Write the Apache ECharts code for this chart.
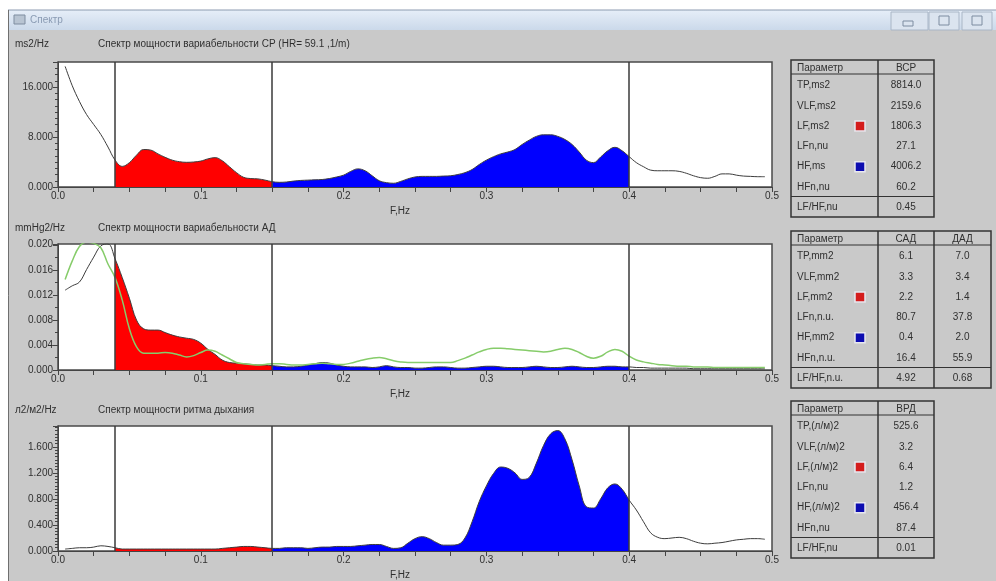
<!DOCTYPE html>
<html><head><meta charset="utf-8">
<script src="https://cdn.jsdelivr.net/npm/echarts/dist/echarts.min.js"></script>
<style>html,body{margin:0;padding:0;background:#fff}#c{width:996px;height:581px}</style>
</head><body><div id="c"></div>
<script>
// ---- data ----
const freq = [0.005,0.010,0.015,0.020,0.025,0.030,0.035,0.040,0.045,0.050,0.055,0.060,0.065,0.070,0.075,0.080,0.085,0.090,0.095,0.100,
0.105,0.110,0.115,0.120,0.125,0.130,0.135,0.140,0.145,0.150,0.155,0.160,0.165,0.170,0.175,0.180,0.185,0.190,0.195,0.200,
0.205,0.210,0.215,0.220,0.225,0.230,0.235,0.240,0.245,0.250,0.255,0.260,0.265,0.270,0.275,0.280,0.285,0.290,0.295,0.300,
0.305,0.310,0.315,0.320,0.325,0.330,0.335,0.340,0.345,0.350,0.355,0.360,0.365,0.370,0.375,0.380,0.385,0.390,0.395,0.400,
0.405,0.410,0.415,0.420,0.425,0.430,0.435,0.440,0.445,0.450,0.455,0.460,0.465,0.470,0.475,0.480,0.485,0.490,0.495];

// HRV spectrum, thousands of ms2/Hz
const hrvPower = [19.3,16.2,13.7,11.6,10.0,8.4,6.4,4.3,3.3,3.9,5.1,6.0,5.9,5.3,4.75,4.3,4.05,3.95,4.0,4.15,
4.5,4.7,4.2,3.25,2.3,1.55,1.35,1.3,1.1,0.85,0.75,0.8,0.95,1.05,1.1,1.15,1.2,1.35,1.6,1.9,
2.5,2.9,2.6,1.8,1.0,0.7,0.6,0.9,1.3,1.6,1.7,1.7,1.7,1.75,1.8,2.0,2.3,2.8,3.6,4.3,
4.85,5.3,5.6,6.0,6.8,7.5,8.1,8.35,8.35,8.1,7.6,6.8,5.6,4.3,3.9,4.8,5.8,6.35,5.8,4.85,
3.9,3.25,2.7,2.6,2.6,2.6,2.5,2.2,1.8,1.5,1.4,1.7,2.1,2.1,1.9,1.75,1.7,1.65,1.65];

// BP spectrum, mmHg2/Hz (systolic = black/filled, diastolic = green)
const sbpPower = [0.0128,0.0135,0.0141,0.0161,0.0181,0.0199,0.0202,0.0178,0.0148,0.0115,0.0080,0.0066,0.0064,0.0064,0.0060,0.0056,0.0053,0.0051,0.0049,0.0043,
0.0033,0.0025,0.0016,0.0012,0.0011,0.0010,0.0009,0.0008,0.0008,0.0007,0.0006,0.0005,0.0005,0.0006,0.0008,0.0010,0.0012,0.0011,0.0008,0.0006,
0.0005,0.0005,0.0005,0.0004,0.0005,0.0007,0.0005,0.0004,0.0004,0.0003,0.0003,0.0004,0.0005,0.0005,0.0004,0.0003,0.0003,0.0004,0.0005,0.0006,
0.0006,0.0005,0.0004,0.0004,0.0004,0.0005,0.0006,0.0005,0.0004,0.0004,0.0005,0.0006,0.0005,0.0004,0.0004,0.0005,0.0006,0.0006,0.0005,0.0005,
0.0004,0.0004,0.0003,0.0003,0.0003,0.0003,0.0003,0.0003,0.0002,0.0002,0.0002,0.0002,0.0002,0.0002,0.0002,0.0002,0.0002,0.0002,0.0002];
const dbpPower = [0.0145,0.0175,0.0198,0.0205,0.0203,0.0196,0.0170,0.0148,0.0112,0.0066,0.0037,0.0027,0.0027,0.0027,0.0028,0.0027,0.0024,0.0021,0.0023,0.0028,
0.0032,0.0030,0.0024,0.0018,0.0012,0.0010,0.0009,0.0008,0.0009,0.0010,0.0010,0.0009,0.0008,0.0008,0.0009,0.0010,0.0011,0.0010,0.0009,0.0009,
0.0011,0.0014,0.0017,0.0019,0.0020,0.0018,0.0015,0.0013,0.0012,0.0012,0.0012,0.0012,0.0012,0.0012,0.0012,0.0015,0.0019,0.0024,0.0029,0.0033,
0.0035,0.0035,0.0034,0.0033,0.0032,0.0031,0.0030,0.0029,0.0030,0.0033,0.0035,0.0033,0.0028,0.0022,0.0019,0.0022,0.0029,0.0033,0.0030,0.0022,
0.0016,0.0013,0.0011,0.0009,0.0008,0.0007,0.0006,0.0006,0.0005,0.0005,0.0005,0.0004,0.0004,0.0004,0.0004,0.0004,0.0004,0.0004,0.0004];

// Respiration spectrum
const respPower = [0.03,0.04,0.05,0.05,0.06,0.08,0.07,0.05,0.03,0.03,0.03,0.03,0.03,0.03,0.03,0.03,0.03,0.03,0.03,0.03,
0.03,0.03,0.04,0.05,0.06,0.07,0.07,0.06,0.05,0.04,0.04,0.05,0.05,0.05,0.04,0.05,0.06,0.06,0.07,0.07,
0.07,0.08,0.09,0.10,0.10,0.07,0.04,0.05,0.12,0.19,0.22,0.19,0.13,0.09,0.09,0.10,0.20,0.45,0.76,1.00,
1.19,1.29,1.27,1.20,1.10,1.13,1.35,1.62,1.80,1.85,1.72,1.40,1.00,0.68,0.66,0.80,0.97,1.03,0.95,0.78,
0.63,0.45,0.28,0.21,0.19,0.20,0.21,0.19,0.15,0.12,0.11,0.12,0.13,0.15,0.17,0.18,0.19,0.19,0.18];

const bandEdges = [0.04, 0.15, 0.4];   // VLF | LF | HF | ...
const xTicks = [0, 0.1, 0.2, 0.3, 0.4, 0.5];

const unitLabels = ['ms2/Hz', 'mmHg2/Hz', 'л2/м2/Hz'];
const panelTitles = ['Спектр мощности вариабельности СР (HR= 59.1 ,1/m)', 'Спектр мощности вариабельности АД', 'Спектр мощности ритма дыхания'];

const table1Header = ['Параметр', 'ВСР'];
const table1Rows = ['TP,ms2', 'VLF,ms2', 'LF,ms2', 'LFn,nu', 'HF,ms', 'HFn,nu', 'LF/HF,nu'];
const table1Vals = ['8814.0', '2159.6', '1806.3', '27.1', '4006.2', '60.2', '0.45'];

const table2Header = ['Параметр', 'САД', 'ДАД'];
const table2Rows = ['TP,mm2', 'VLF,mm2', 'LF,mm2', 'LFn,n.u.', 'HF,mm2', 'HFn,n.u.', 'LF/HF,n.u.'];
const table2Sad = ['6.1', '3.3', '2.2', '80.7', '0.4', '16.4', '4.92'];
const table2Dad = ['7.0', '3.4', '1.4', '37.8', '2.0', '55.9', '0.68'];

const table3Header = ['Параметр', 'ВРД'];
const table3Rows = ['TP,(л/м)2', 'VLF,(л/м)2', 'LF,(л/м)2', 'LFn,nu', 'HF,(л/м)2', 'HFn,nu', 'LF/HF,nu'];
const table3Vals = ['525.6', '3.2', '6.4', '1.2', '456.4', '87.4', '0.01'];

// ---- build ----
const FONT = '"Liberation Sans", Arial, sans-serif';
const TXT = '#303030';
function pairs(vals, lo, hi) {
  return freq.map((f, i) => [f, vals[i]]).filter(p => p[0] >= lo - 1e-9 && p[0] <= hi + 1e-9);
}
const chart = echarts.init(document.getElementById('c'));

const gridTops = [62, 244, 426];
const gridHeights = [125, 126, 125];
const yMax = [20, 0.0202, 1.92];
const yInterval = [8, 0.004, 0.4];
const yMinor = [8, 2, 8];

const grids = gridTops.map((t, i) => ({left: 58, top: t, width: 714, height: gridHeights[i], show: true,
  backgroundColor: '#ffffff', borderColor: '#4a4a4a', borderWidth: 1.5}));

const xAxes = [0,1,2].map(i => ({
  type: 'value', gridIndex: i, min: xTicks[0], max: xTicks[xTicks.length-1], interval: xTicks[1] - xTicks[0],
  axisLine: {show: true, lineStyle: {color: '#444', width: 1}},
  axisTick: {show: true, length: 5, lineStyle: {color: '#444'}},
  minorTick: {show: true, splitNumber: 4, length: 5, lineStyle: {color: '#444'}},
  splitLine: {show: false}, minorSplitLine: {show: false},
  axisLabel: {color: TXT, fontSize: 10, fontFamily: FONT, margin: 4, formatter: v => v.toFixed(1)},
  name: 'F,Hz', nameLocation: 'middle', nameGap: 19,
  nameTextStyle: {color: TXT, fontSize: 10, fontFamily: FONT, padding: [0, 30, 0, 0]}
}));

const yAxes = [0,1,2].map(i => ({
  type: 'value', gridIndex: i, min: 0, max: yMax[i], interval: yInterval[i],
  axisLine: {show: true, lineStyle: {color: '#444', width: 1}},
  axisTick: {show: true, length: 5, lineStyle: {color: '#444'}},
  minorTick: {show: true, splitNumber: yMinor[i], length: 3, lineStyle: {color: '#444'}},
  splitLine: {show: false}, minorSplitLine: {show: false},
  axisLabel: {color: TXT, fontSize: 10, fontFamily: FONT, margin: 5, showMaxLabel: i === 1,
    formatter: v => v.toFixed(3)}
}));

const series = [];
function addPanel(i, vals) {
  series.push({type: 'line', xAxisIndex: i, yAxisIndex: i, data: pairs(vals, bandEdges[0], bandEdges[1]),
    smooth: 0.4, symbol: 'none', lineStyle: {opacity: 0}, areaStyle: {color: '#ff0000', opacity: 1}, z: 2, silent: true});
  series.push({type: 'line', xAxisIndex: i, yAxisIndex: i, data: pairs(vals, bandEdges[1], bandEdges[2]),
    smooth: 0.4, symbol: 'none', lineStyle: {opacity: 0}, areaStyle: {color: '#0000ff', opacity: 1}, z: 2, silent: true});
  series.push({type: 'line', xAxisIndex: i, yAxisIndex: i, data: pairs(vals, 0, 1),
    smooth: 0.4, symbol: 'none', lineStyle: {color: '#3c3c3c', width: 1}, z: 3, silent: true,
    markLine: {silent: true, symbol: 'none', label: {show: false}, animation: false,
      lineStyle: {color: '#3a3a3a', width: 1.5, type: 'solid'},
      data: bandEdges.map(v => ({xAxis: v}))}});
}
addPanel(0, hrvPower);
addPanel(1, sbpPower);
addPanel(2, respPower);
series.push({type: 'line', xAxisIndex: 1, yAxisIndex: 1, data: pairs(dbpPower, 0, 1),
  smooth: 0.4, symbol: 'none', lineStyle: {color: '#86cc6a', width: 1.5}, z: 4, silent: true});

// ---- graphic: window chrome, headers, tables ----
const g = [];
function txt(x, y, s, opts) {
  opts = opts || {};
  g.push({type: 'text', z: 20, style: {x: x, y: y, text: s, fill: opts.fill || TXT,
    font: (opts.size || 10) + 'px ' + FONT, textAlign: opts.align || 'left', align: opts.align || 'left',
    textVerticalAlign: 'middle', verticalAlign: 'middle'}});
}
function rect(x, y, w, h, style, z) { g.push({type: 'rect', z: z === undefined ? -10 : z, shape: {x: x, y: y, width: w, height: h}, style: style}); }
function line(x1, y1, x2, y2, stroke, lw, z) { g.push({type: 'line', z: z === undefined ? 20 : z, shape: {x1: x1, y1: y1, x2: x2, y2: y2}, style: {stroke: stroke, lineWidth: lw}}); }

// window body
rect(8, 10, 988, 571, {fill: '#c9c9c9'}, -20);
// title bar
rect(8, 10, 988, 20, {fill: new echarts.graphic.LinearGradient(0, 0, 0, 1, [{offset: 0, color: '#e6eef8'}, {offset: 1, color: '#cbd9ea'}])}, -15);
line(8, 10, 996, 10, '#8c9bb0', 1, -14);
line(8.5, 10, 8.5, 581, '#6f6f6f', 1, -14);
rect(14, 15, 11, 9, {fill: '#b8c4d2', stroke: '#7f8da0', lineWidth: 1}, -14);
txt(30, 20, 'Спектр', {fill: '#8a9bb3', size: 10});
// window buttons
[[891, 37], [929, 30], [962, 30]].forEach(b => rect(b[0], 12, b[1], 18, {fill: '#dbe4ef', stroke: '#a9b6c6', lineWidth: 1}, -14));
rect(903, 21, 10, 5, {fill: 'none', stroke: '#7d8ca0', lineWidth: 1}, -13);
rect(939, 16, 10, 9, {fill: 'none', stroke: '#7d8ca0', lineWidth: 1}, -13);
rect(972, 16, 10, 9, {fill: 'none', stroke: '#7d8ca0', lineWidth: 1}, -13);

// panel headers
const headerY = [44, 228, 410];
headerY.forEach((y, i) => { txt(15, y, unitLabels[i]); txt(98, y, panelTitles[i]); });

// tables
function table(top, edges, header, rows, cols) {
  const left = edges[0], right = edges[edges.length - 1];
  g.push({type: 'rect', z: 20, shape: {x: left, y: top, width: right - left, height: 157}, style: {fill: 'none', stroke: '#333', lineWidth: 1.5}});
  for (let k = 1; k < edges.length - 1; k++) line(edges[k], top, edges[k], top + 157, '#333', 1.5);
  line(left, top + 14, right, top + 14, '#333', 1.2);
  line(left, top + 136.5, right, top + 136.5, '#333', 1.2);
  txt(left + 6, top + 8, header[0]);
  for (let k = 1; k < header.length; k++) txt((edges[k] + edges[k + 1]) / 2, top + 8, header[k], {align: 'center'});
  rows.forEach((r, j) => {
    const y = j < 6 ? top + 25.5 + j * 20.3 : top + 147;
    txt(left + 6, y, r);
    cols.forEach((c, k) => txt((edges[k + 1] + edges[k + 2]) / 2, y, c[j], {align: 'center'}));
    if (j === 2 || j === 4) {
      const col = j === 2 ? '#d41c1c' : '#0c0cb0';
      g.push({type: 'rect', z: 20, shape: {x: 855, y: y - 5, width: 10, height: 10}, style: {fill: col, stroke: '#e8e8f0', lineWidth: 1.5}});
    }
  });
}
table(60, [791, 878, 934], table1Header, table1Rows, [table1Vals]);
table(231, [791, 878, 934, 991], table2Header, table2Rows, [table2Sad, table2Dad]);
table(401, [791, 878, 934], table3Header, table3Rows, [table3Vals]);

chart.setOption({
  animation: false,
  backgroundColor: '#ffffff',
  grid: grids, xAxis: xAxes, yAxis: yAxes, series: series,
  graphic: {elements: g}
});
</script></body></html>
